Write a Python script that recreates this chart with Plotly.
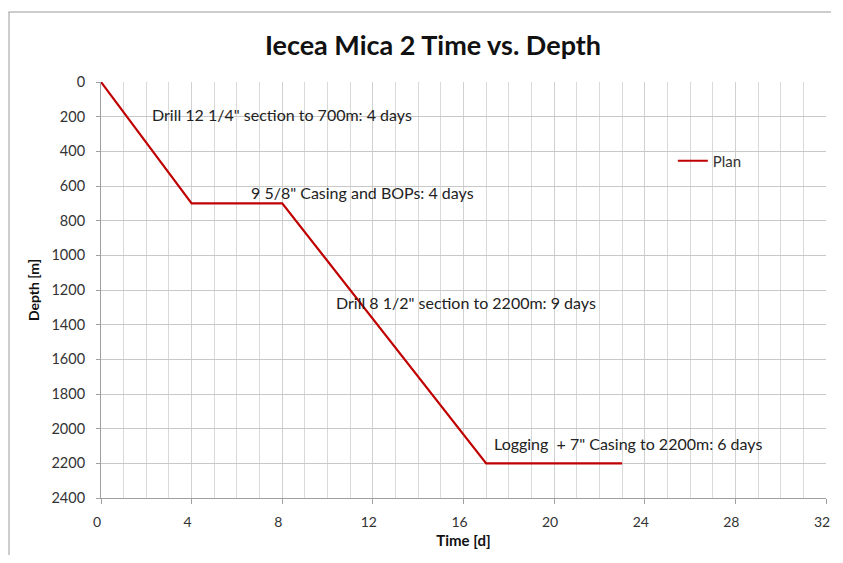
import plotly.graph_objects as go

time_d = [0, 4, 8, 17, 23]
depth_m = [0, 700, 700, 2200, 2200]
series_name = "Plan"
phase_labels = [
    'Drill 12 1/4" section to 700m: 4 days',
    '9 5/8" Casing and BOPs: 4 days',
    'Drill 8 1/2" section to 2200m: 9 days',
    'Logging  + 7" Casing to 2200m: 6 days',
]
x_ticks = [0, 4, 8, 12, 16, 20, 24, 28, 32]
y_ticks = list(range(0, 2401, 200))

FONT = "Lato, Open Sans, sans-serif"
# page body has an 8px margin on every side; plot area in window: x 101..830, y 82..498
PL, PR, PT, PB = 101, 830, 82, 498
OFF = 8
W, H = 843 - 2 * OFF, 563 - 2 * OFF
PW, PH = PR - PL, PB - PT

def px(xw):
    return (xw - PL) / PW

def py(yw):
    return (PB - yw) / PH

fig = go.Figure()
fig.add_trace(go.Scatter(x=time_d, y=depth_m, mode="lines", name=series_name,
                         line=dict(color="#C00000", width=2.2)))

ann_pos = [(2.15, 185), (6.54, 635), (10.3, 1270), (17.25, 2083)]
for (ax, ay), txt in zip(ann_pos, phase_labels):
    fig.add_annotation(x=ax, y=ay, text=txt, showarrow=False, xanchor="left",
                       yanchor="middle", font=dict(family=FONT, size=16, color="#222"))

fig.update_layout(
    width=W, height=H,
    margin=dict(l=PL - OFF, r=(843 - OFF) - PR, t=PT - OFF, b=(563 - OFF) - PB, pad=0),
    paper_bgcolor="white", plot_bgcolor="white",
    title=dict(text="<b>Iecea Mica 2 Time vs. Depth</b>", x=(433 - OFF) / W, xanchor="center",
               y=1 - (46 - OFF) / H, yanchor="middle",
               font=dict(family=FONT, size=27, color="#111")),
    showlegend=True,
    legend=dict(x=px(676), y=py(161), xanchor="left", yanchor="middle",
                font=dict(family=FONT, size=15, color="#333"), bgcolor="rgba(0,0,0,0)"),
    font=dict(family=FONT),
)
fig.update_xaxes(range=[0, 32], tickvals=x_ticks, showgrid=True, gridcolor="#d0d0d0",
                 gridwidth=1, minor=dict(dtick=1, showgrid=True, gridcolor="#d9d9d9"),
                 showline=True, linecolor="#a0a0a0", ticks="outside", ticklen=5,
                 tickcolor="#a0a0a0", zeroline=False, ticklabelstandoff=6,
                 ticklabelshift=-4, ticklabeloverflow="allow",
                 tickfont=dict(family=FONT, size=14, color="#333"),
                 title=dict(text="<b>Time [d]</b>", font=dict(family=FONT, size=15, color="#111"),
                            standoff=6))
fig.update_yaxes(range=[2400, 0], tickvals=y_ticks, showgrid=True, gridcolor="#c8c8c8",
                 showline=True, linecolor="#a0a0a0", ticks="outside", ticklen=4,
                 tickcolor="#a0a0a0", zeroline=False, ticklabelstandoff=8,
                 tickfont=dict(family=FONT, size=14.5, color="#333"),
                 title=dict(text="<b>Depth [m]</b>", font=dict(family=FONT, size=14, color="#111"),
                            standoff=8))
# outer frame (top and left edges)
fig.add_shape(type="line", xref="paper", yref="paper",
              x0=px(8), x1=px(835), y0=py(12), y1=py(12),
              line=dict(color="#9a9a9a", width=1), layer="below")
fig.add_shape(type="line", xref="paper", yref="paper",
              x0=px(8.5), x1=px(8.5), y0=py(12), y1=py(555),
              line=dict(color="#9a9a9a", width=1), layer="below")
fig.write_html("out.html", config={"displayModeBar": False})
